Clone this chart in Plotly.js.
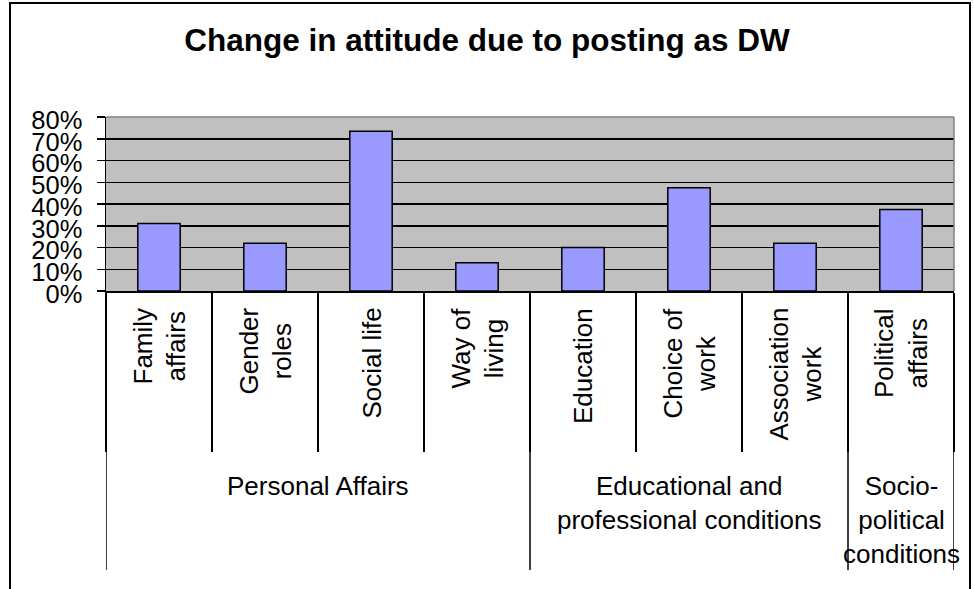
<!DOCTYPE html>
<html>
<head>
<meta charset="utf-8">
<script src="https://cdn.plot.ly/plotly-3.0.1.min.js"></script>
<style>html,body{margin:0;padding:0;background:#fff;overflow:hidden;}#chart{width:974px;height:589px;}</style>
</head>
<body>
<div id="chart"></div>
<script>
// ---- data ----
const categories = ['Family affairs', 'Gender roles', 'Social life', 'Way of living', 'Education', 'Choice of work', 'Association work', 'Political affairs'];
const categoryLabels = ['Family<br>affairs', 'Gender<br>roles', 'Social life', 'Way of<br>living', 'Education', 'Choice of<br>work', 'Association<br>work', 'Political<br>affairs'];
const values = [0.31, 0.22, 0.735, 0.13, 0.20, 0.475, 0.22, 0.375];
const groupNames = ['Personal Affairs', 'Educational and<br>professional conditions', 'Socio-<br>political<br>conditions'];
const groupSizes = [4, 3, 1];
const yTicks = [0, 0.1, 0.2, 0.3, 0.4, 0.5, 0.6, 0.7, 0.8];

// ---- layout helpers ----
const W = 974, H = 589;
const M = {l: 106, r: 20, t: 117, b: 298};
const plotH = H - M.t - M.b;
const plotW = W - M.l - M.r;
const FONT = 'Liberation Sans, Arial, sans-serif';
const py = p => (H - M.b - p) / plotH;   // pixel row -> paper y
const px = p => (p - M.l) / plotW;       // pixel column -> paper x

const annotations = [];
const shapes = [];

// category labels (rotated)
categories.forEach((c, i) => {
  annotations.push({
    xref: 'x', yref: 'paper', x: c, y: py(306), yanchor: 'top', xanchor: 'center',
    text: categoryLabels[i], textangle: -90, showarrow: false, align: 'center',
    font: {family: FONT, size: 26, color: '#000'}
  });
});

// group labels and group separators
let start = 0;
const bounds = [-0.5];
groupSizes.forEach((n, g) => {
  const centre = start + (n - 1) / 2;
  annotations.push({
    xref: 'x', yref: 'paper', x: centre, y: py(469), yanchor: 'top', xanchor: 'center',
    text: groupNames[g], showarrow: false, align: 'center',
    font: {family: FONT, size: 26, color: '#000'}
  });
  start += n;
  bounds.push(start - 0.5);
});
bounds.forEach(b => {
  shapes.push({type: 'line', xref: 'x', yref: 'paper', x0: b, x1: b, y0: 0, y1: py(570),
    line: {color: '#000', width: 1.5}, layer: 'above'});
});

// plot-area top/right border (gray)
shapes.push({type: 'line', xref: 'paper', yref: 'paper', x0: 0, x1: 1, y0: 1, y1: 1, line: {color: '#808080', width: 1.5}, layer: 'above'});
shapes.push({type: 'line', xref: 'paper', yref: 'paper', x0: 1, x1: 1, y0: 0, y1: 1, line: {color: '#808080', width: 1.5}, layer: 'above'});

// chart-area border
shapes.push({type: 'rect', xref: 'paper', yref: 'paper', x0: px(10), x1: px(970), y0: py(620), y1: py(3),
  line: {color: '#000', width: 2}, fillcolor: 'rgba(0,0,0,0)', layer: 'above'});

const trace = {
  type: 'bar', x: categories, y: values, width: 0.4,
  marker: {color: '#9999FF', line: {color: '#000', width: 1.5}},
  hoverinfo: 'x+y'
};

const layout = {
  width: W, height: H,
  margin: M,
  paper_bgcolor: '#fff', plot_bgcolor: '#C0C0C0',
  showlegend: false,
  title: {
    text: 'Change in attitude due to posting as DW',
    font: {family: FONT, size: 31.5, color: '#000', weight: 'bold'},
    xref: 'container', x: 0.5, xanchor: 'center',
    yref: 'container', y: 1 - 40 / H, yanchor: 'middle', automargin: false
  },
  xaxis: {
    type: 'category', showticklabels: false, automargin: false,
    range: [-0.5, categories.length - 0.5], autorange: false,
    ticks: 'outside', tickson: 'boundaries', ticklen: 159, tickwidth: 1.5, tickcolor: '#000',
    showline: true, linecolor: '#000', linewidth: 1.5,
    showgrid: false, zeroline: false, fixedrange: true
  },
  yaxis: {
    range: [0, 0.8], autorange: false, tickvals: yTicks, tickformat: '.0%', automargin: false,
    ticks: 'outside', ticklen: 8, tickwidth: 1.5, tickcolor: '#000',
    ticklabelstandoff: 9, ticklabelshift: 3,
    tickfont: {family: FONT, size: 25.5, color: '#000'},
    showline: true, linecolor: '#000', linewidth: 1.5,
    showgrid: true, gridcolor: '#000', gridwidth: 1.5,
    zeroline: false, fixedrange: true
  },
  annotations: annotations,
  shapes: shapes
};

Plotly.newPlot('chart', [trace], layout, {displayModeBar: false, staticPlot: true});
</script>
</body>
</html>
